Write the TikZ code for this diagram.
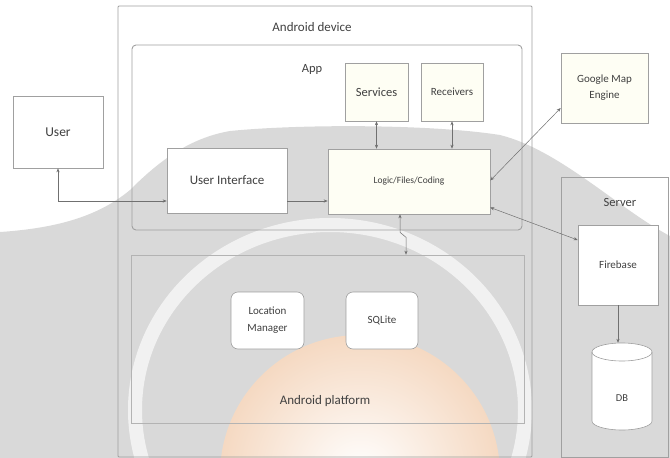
\documentclass[tikz,border=0pt]{standalone}
\usepackage{fontspec}
\setmainfont{Carlito}
\usetikzlibrary{arrows.meta}
\definecolor{wm}{HTML}{D9D9D9}
\definecolor{bd}{HTML}{A0A0A0}
\definecolor{tx}{HTML}{404040}
\definecolor{peach}{HTML}{F5D9C2}
\definecolor{cream}{HTML}{FEFEF4}
\definecolor{ln}{HTML}{707070}
\begin{document}
\begin{tikzpicture}[x=1pt,y=-1pt,
  box/.style={draw=bd, line width=0.6pt, fill=white, inner sep=1pt, align=center, text=tx},
  frame/.style={draw=bd, line width=0.9pt, inner sep=0pt},
  lbl/.style={text=tx, inner sep=0pt},
  arr/.style={draw=ln, line width=0.5pt, -{Stealth[length=4pt,width=3.2pt]}},
  darr/.style={draw=ln, line width=0.5pt, {Stealth[length=4pt,width=3.2pt]}-{Stealth[length=4pt,width=3.2pt]}}]
\useasboundingbox (0,0) rectangle (670,458);
% watermark background
\fill[wm] (0,232) .. controls (60,228) and (100,215) .. (130,190) .. controls (160,160) and (190,138) .. (230,131) .. controls (300,124) and (430,124) .. (500,135) .. controls (560,150) and (620,210) .. (670,236) -- (670,458) -- (0,458) -- cycle;
\begin{scope}
\clip (0,0) rectangle (670,458);
\shade[inner color=white, outer color=peach] (360,475) circle (140);
\draw[white, line width=14pt, opacity=0.65] (330,410) ellipse [x radius=195, y radius=185];
\end{scope}
% frames
\node[frame, rounded corners=1pt, minimum width=414, minimum height=451] (device) at (325,231.5) {};
\node[frame, rounded corners=4pt, minimum width=390, minimum height=185] (app) at (327,137.5) {};
\node[frame, draw=bd!80, line width=0.6pt, minimum width=393, minimum height=168] (platform) at (327.5,339) {};
\node[frame, minimum width=107, minimum height=280] (server) at (614.5,317) {};
\node[lbl, font=\fontsize{13}{14}\selectfont] (devlbl) at (312,27) {Android device};
\node[lbl, font=\fontsize{12.5}{13}\selectfont] (applbl) at (312,69) {App};
\node[lbl, font=\fontsize{12.5}{13}\selectfont] (srvlbl) at (620,202) {Server};
\node[lbl, font=\fontsize{13}{14}\selectfont] (platlbl) at (325,401) {Android platform};
% boxes
\node[box, minimum width=90, minimum height=72, font=\fontsize{13.5}{14}\selectfont] (user) at (58,132) {User};
\node[box, minimum width=120, minimum height=65, font=\fontsize{13}{14}\selectfont] (ui) at (227,180.5) {User Interface};
\node[box, fill=cream, minimum width=162, minimum height=65, font=\fontsize{9.5}{10}\selectfont] (logic) at (409,181.5) {Logic/Files/Coding};
\node[box, fill=cream, minimum width=63, minimum height=58, font=\fontsize{12.5}{13}\selectfont] (services) at (376.5,92) {Services};
\node[box, fill=cream, minimum width=62, minimum height=58, font=\fontsize{11}{12}\selectfont] (receivers) at (452,92) {Receivers};
\node[box, fill=cream, minimum width=87, minimum height=70, font=\fontsize{11}{16}\selectfont] (gme) at (604.5,88) {Google Map\\Engine};
\node[box, minimum width=80, minimum height=80, font=\fontsize{11}{12}\selectfont] (firebase) at (618,265) {Firebase};
\node[box, rounded corners=7pt, minimum width=73, minimum height=57, font=\fontsize{11}{17}\selectfont] (locman) at (267.5,320.5) {Location\\Manager};
\node[box, rounded corners=7pt, minimum width=72, minimum height=57, font=\fontsize{11}{12}\selectfont] (sqlite) at (382,320.5) {SQLite};
% DB cylinder
\filldraw[draw=bd, line width=0.6pt, fill=white] (592,352) -- (592,421) arc[start angle=180, end angle=0, x radius=30, y radius=9] -- (652,352) arc[start angle=0, end angle=-180, x radius=30, y radius=9] -- cycle;
\draw[bd, line width=0.6pt] (592,352) arc[start angle=180, end angle=0, x radius=30, y radius=9];
\node[inner sep=0pt, minimum width=60, minimum height=87] (db) at (622,386.5) {};
\node[text=tx, inner sep=0pt, font=\fontsize{10.5}{11}\selectfont] (dblbl) at (622,398) {DB};
% connectors
\draw[darr] (user.south) |- ([yshift=-20.5pt]ui.west);
\draw[arr] ([yshift=-20.5pt]ui.east) -- ([yshift=-19.5pt]logic.west);
\draw[darr] (services.south) -- (services.south |- logic.north);
\draw[darr] (receivers.south) -- (receivers.south |- logic.north);
\draw[darr] ([yshift=1pt]logic.east) -- ([yshift=-20pt]gme.west);
\draw[darr] ([yshift=-26pt]logic.east) -- ([yshift=25pt]firebase.west);
\draw[darr] ([xshift=-9pt]logic.south) -- ++(0,18) -- ++(6,5) coordinate (zz) -- (zz |- platform.north);
\draw[arr] (firebase.south) -- (firebase.south |- db.north);
\end{tikzpicture}
\end{document}
